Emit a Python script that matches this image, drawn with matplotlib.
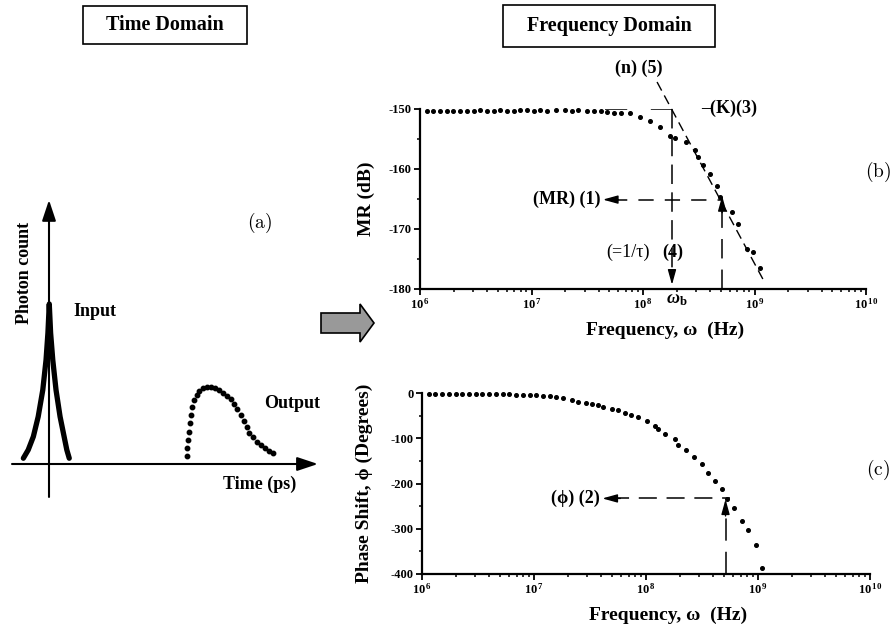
import numpy as np
import matplotlib
matplotlib.use("Agg")
import matplotlib.pyplot as plt
from matplotlib.patches import Rectangle, FancyArrow
from matplotlib.ticker import LogLocator, MultipleLocator, NullFormatter

plt.rcParams['font.family'] = ['Liberation Serif', 'DejaVu Serif']
plt.rcParams['font.weight'] = 'bold'
plt.rcParams['axes.labelweight'] = 'bold'
plt.rcParams['mathtext.fontset'] = 'custom'
plt.rcParams['mathtext.rm'] = 'Liberation Serif:bold'
plt.rcParams['mathtext.bf'] = 'Liberation Serif:bold'
plt.rcParams['mathtext.it'] = 'Liberation Serif:italic'
plt.rcParams['lines.scale_dashes'] = False

W, H = 893, 634

# ---- (a) time domain (arbitrary units) ----
input_t = [-9.5, -7.7, -5.8, -4.0, -2.3, -1.1, -0.4, 0.1, 0.6, 1.4, 2.6, 4.1, 5.6, 6.6, 7.5]
input_count = [3.6, 8.8, 17.1, 29.6, 46.3, 65, 81.9, 100, 81.9, 65, 46.3, 29.6, 17.1, 8.8, 3.6]
output_t = [51.2, 51.2, 51.5, 51.7, 52.1, 52.6, 53.1, 53.7, 54.7, 55.7, 56.9, 58.4, 59.9, 61.5,
            63.1, 64.6, 66.0, 67.4, 68.6, 69.7, 71.0, 72.1, 73.2, 74.2, 75.4, 76.9, 78.5, 80.0,
            81.6, 82.9]
output_count = [5.0, 9.8, 15.0, 20.2, 25.4, 30.6, 35.4, 40.0, 43.1, 45.8, 47.7, 48.3, 48.3, 47.7,
                46.3, 44.6, 42.5, 40.4, 37.5, 34.2, 30.6, 27.1, 23.3, 19.6, 16.7, 13.9, 11.9, 10.2,
                8.3, 7.1]

# ---- (b) modulation ratio vs log10 frequency ----
mr_logf = [6.06, 6.12, 6.18, 6.24, 6.30, 6.36, 6.42, 6.48, 6.54, 6.60, 6.66, 6.72, 6.78, 6.84,
           6.90, 6.96, 7.02, 7.08, 7.14, 7.22, 7.30, 7.36, 7.42, 7.50, 7.56, 7.62, 7.68, 7.74,
           7.80, 7.88, 7.97, 8.06, 8.15, 8.24, 8.29, 8.39, 8.47, 8.49, 8.54, 8.60, 8.66, 8.69,
           8.80, 8.85, 8.93, 8.99, 9.05]
mr_db = [-150.3, -150.4, -150.3, -150.3, -150.4, -150.3, -150.3, -150.3, -150.2, -150.3, -150.3,
         -150.2, -150.3, -150.3, -150.2, -150.2, -150.3, -150.2, -150.3, -150.2, -150.2, -150.3,
         -150.2, -150.3, -150.4, -150.4, -150.5, -150.6, -150.6, -150.7, -151.3, -152.0, -153.0,
         -154.5, -154.8, -155.5, -156.8, -158.0, -159.4, -160.9, -162.9, -164.6, -167.2, -169.2,
         -173.4, -173.9, -176.5]

# ---- (c) phase shift vs log10 frequency ----
ph_logf = [6.06, 6.12, 6.18, 6.24, 6.30, 6.36, 6.42, 6.48, 6.54, 6.60, 6.66, 6.72, 6.78, 6.84,
           6.90, 6.96, 7.02, 7.08, 7.14, 7.20, 7.26, 7.34, 7.39, 7.46, 7.52, 7.57, 7.62, 7.70,
           7.75, 7.81, 7.87, 7.93, 8.01, 8.08, 8.11, 8.17, 8.26, 8.29, 8.36, 8.43, 8.50, 8.55,
           8.62, 8.68, 8.72, 8.79, 8.86, 8.91, 8.98, 9.04]
ph_deg = [-2, -3, -2, -2, -3, -2, -3, -3, -2, -3, -3, -3, -3, -4, -4, -4, -5, -6, -7, -9, -11,
          -15, -20, -22, -24, -27, -31, -35, -38, -44, -49, -53, -62, -73, -80, -91, -102, -115,
          -126, -141, -157, -177, -194, -212, -234, -254, -283, -303, -336, -387]

# construction values
log_omega_b = 8.26          # corner frequency (=1/tau)
log_omega_m = 8.71          # measurement frequency
mr_meas = -165.1
ph_meas = -233
asym_logf = [8.126, 9.094]
asym_db = [-145.5, -179.0]

decades = [6, 7, 8, 9, 10]
mr_ticks = [-180, -170, -160, -150]
ph_ticks = [-400, -300, -200, -100, 0]


def px_rect(l, t, r, b):
    return [l / W, 1 - b / H, (r - l) / W, (b - t) / H]


def head(ax, tip, offset):
    ax.annotate('', xy=tip, xytext=offset, textcoords='offset points',
                arrowprops=dict(arrowstyle='-|>,head_length=0.9,head_width=0.25',
                                mutation_scale=10, color='k', lw=1.0,
                                shrinkA=0, shrinkB=0), annotation_clip=False)


fig = plt.figure(figsize=(W / 100, H / 100), dpi=100)

# header boxes
for (l, t, r, b), label in [((83, 6, 247, 44), 'Time Domain'),
                            ((503, 5, 715, 47), 'Frequency Domain')]:
    fig.add_artist(Rectangle((l / W, 1 - b / H), (r - l) / W, (b - t) / H,
                             transform=fig.transFigure, fill=False, ec='k', lw=1.2))
    fig.text((l + r) / 2 / W, 1 - (t + b) / 2 / H, label, ha='center', va='center',
             fontsize=14.5)

# big grey arrow
fig.add_artist(FancyArrow(321 / W, 1 - 323 / H, 53 / W, 0, width=20 / H, head_width=38 / H,
                          head_length=14 / W, length_includes_head=True,
                          transform=fig.transFigure, fc='#999999', ec='k', lw=1.2))

# ---- panel (a) ----
ax_t = fig.add_axes(px_rect(0.4, 184, 340.6, 508.8))
ax_t.set_xlim(-18, 108)
ax_t.set_ylim(-28, 175)
ax_t.axis('off')
arrow_kw = dict(arrowstyle='-|>,head_length=0.9,head_width=0.3', mutation_scale=14,
                color='k', lw=1.5, shrinkA=0, shrinkB=0)
ax_t.annotate('', xy=(99.6, 0), xytext=(-13.7, 0), arrowprops=arrow_kw)
ax_t.annotate('', xy=(0, 165), xytext=(0, -20.6), arrowprops=arrow_kw)
ax_t.plot(input_t, input_count, color='k', lw=3.8, solid_capstyle='round')
ax_t.plot(output_t, output_count, 'ko', ms=3.2)
ax_t.text(-9, 119.4, 'Photon count', rotation=90, ha='center', va='center', fontsize=13)
ax_t.text(16.9, 95, 'Input', ha='center', va='center', fontsize=13)
ax_t.text(90.2, 37.5, 'Output', ha='center', va='center', fontsize=13)
ax_t.text(78, -13, 'Time (ps)', ha='center', va='center', fontsize=13)
ax_t.text(78.1, 150.6, r'$\mathrm{(a)}$', math_fontfamily='cm', ha='center', va='center',
          fontsize=14)


def style_axes(ax, yticks):
    ax.set_xscale('log')
    ax.set_xlim(10.0 ** decades[0], 10.0 ** decades[-1])
    ax.set_xticks([10.0 ** d for d in decades])
    ax.set_xticklabels([r'$10^{\,%d}$' % d for d in decades])
    ax.xaxis.set_minor_locator(LogLocator(base=10, subs=np.arange(2, 10)))
    ax.xaxis.set_minor_formatter(NullFormatter())
    ax.set_yticks(yticks)
    ax.set_yticklabels([str(v) for v in yticks])
    ax.yaxis.set_minor_locator(MultipleLocator((yticks[1] - yticks[0]) / 2))
    ax.set_ylim(yticks[0], yticks[-1])
    for s in ['top', 'right']:
        ax.spines[s].set_visible(False)
    for s in ['left', 'bottom']:
        ax.spines[s].set_linewidth(1.6)
    ax.tick_params(which='major', direction='out', length=4, width=1.3, labelsize=9, pad=2)
    ax.tick_params(which='minor', direction='out', length=2.5, width=1.1)
    ax.patch.set_visible(False)


# ---- panel (b) ----
ax_b = fig.add_axes(px_rect(420, 109, 866, 289))
style_axes(ax_b, mr_ticks)
ax_b.plot(10.0 ** np.array(mr_logf), mr_db, 'ko', ms=2.6, clip_on=False)
wb, wm = 10 ** log_omega_b, 10 ** log_omega_m
ax_b.plot([10 ** 7.66, wb], [-150, -150], 'k', lw=1.1, dashes=(16, 17))
ax_b.plot(10.0 ** np.array(asym_logf), asym_db, 'k', lw=1.0, dashes=(7, 4), clip_on=False)
ax_b.plot([wb, wb], [-150, -178], 'k', lw=1.1, dashes=(14, 6))
head(ax_b, (wb, -179.3), (0, 8))
ax_b.plot([10 ** 7.72, wm], [mr_meas, mr_meas], 'k', lw=1.1, dashes=(11, 8))
head(ax_b, (10 ** 7.64, mr_meas), (11, 0))
ax_b.plot([wm, wm], [-180, mr_meas - 1.5], 'k', lw=1.1, dashes=(14, 8))
head(ax_b, (wm, mr_meas + 0.6), (0, -12))
ax_b.text(10 ** 7.96, -143.2, '(n) (5)', ha='center', va='center', fontsize=13, clip_on=False)
ax_b.text(10 ** 8.52, -149.9, '\u2013(K)(3)', ha='left', va='center', fontsize=13)
ax_b.text(10 ** 7.62, mr_meas, '(MR) (1)', ha='right', va='center', fontsize=13)
ax_b.text(10 ** 8.06, -173.9, '(=1/\u03c4)', ha='right', va='center', fontsize=13,
          fontweight='normal')
ax_b.text(10 ** 8.27, -173.9, '(4)', ha='center', va='center', fontsize=13)
ax_b.text(10 ** 8.30, -181.7, r'$\omega_{\mathbf{b}}$', ha='center', va='center', fontsize=13)
ax_b.set_xlabel('Frequency, \u03c9  (Hz)', fontsize=14)
ax_b.xaxis.set_label_coords(0.55, -0.18)
ax_b.set_ylabel('MR (dB)', fontsize=14)
ax_b.yaxis.set_label_coords(-0.10, 0.5)

# ---- panel (c) ----
ax_c = fig.add_axes(px_rect(422, 393, 870, 574))
style_axes(ax_c, ph_ticks)
ax_c.plot(10.0 ** np.array(ph_logf), ph_deg, 'ko', ms=2.6, clip_on=False)
ax_c.plot([10 ** 7.23, 10 ** 8.69], [4, 4], 'k', lw=1.1, dashes=(16, 16))
ax_c.plot([10 ** 7.69, 10 ** 8.75], [ph_meas, ph_meas], 'k', lw=1.1, dashes=(13, 7))
head(ax_c, (10 ** 7.61, ph_meas), (13, 0))
ax_c.plot([wm, wm], [-400, ph_meas - 25], 'k', lw=1.1, dashes=(16, 8))
head(ax_c, (wm, ph_meas - 2), (0, -12))
ax_c.text(10 ** 7.59, ph_meas, '(\u03d5) (2)', ha='right', va='center', fontsize=13)
ax_c.set_xlabel('Frequency, \u03c9  (Hz)', fontsize=14)
ax_c.xaxis.set_label_coords(0.55, -0.18)
ax_c.set_ylabel('Phase Shift, \u03d5 (Degrees)', fontsize=14)
ax_c.yaxis.set_label_coords(-0.11, 0.5)

fig.text(878 / W, 1 - 172 / H, r'$\mathrm{(b)}$', math_fontfamily='cm', ha='center',
         va='center', fontsize=14)
fig.text(878 / W, 1 - 470 / H, r'$\mathrm{(c)}$', math_fontfamily='cm', ha='center',
         va='center', fontsize=14)

fig.savefig('out.png', dpi=100)
